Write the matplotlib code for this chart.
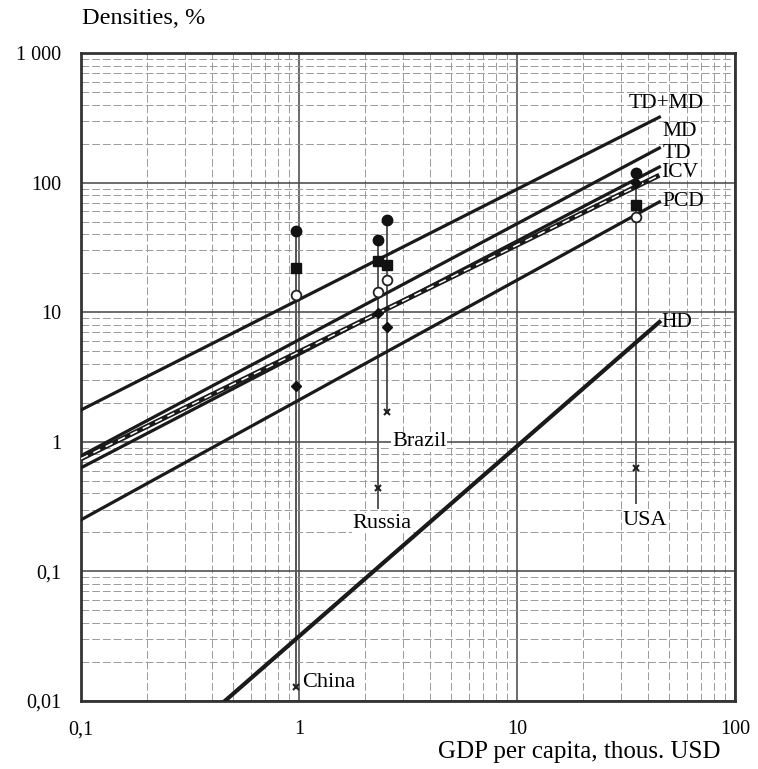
import numpy as np
import matplotlib.pyplot as plt
from matplotlib.ticker import FixedLocator, LogLocator, NullFormatter

plt.rcParams['font.family'] = ['Liberation Serif', 'DejaVu Serif']

# Density trend lines: end points on log-log axes
line_names = ['TD+MD', 'MD', 'TD', 'ICV', 'PCD', 'HD']
line_x0 = [0.1, 0.1, 0.1, 0.1, 0.1, 0.457]
line_y0 = [1.76, 0.78, 0.63, 0.74, 0.25, 0.01]
line_x1 = [45, 45, 45, 45, 45, 45]
line_y1 = [320, 185, 132, 114, 71, 8.4]

# Label anchor for each line (left edge of text)
label_x = [32.5, 46.6, 46.6, 46.0, 46.6, 46.0]
label_y = [411, 246, 169, 120, 71, 8.3]

# Country observations
countries = ['China', 'Russia', 'Brazil', 'USA']
gdp = [0.97, 2.3, 2.53, 35]
circle_vals = [42, 36, 51, 118]
square_vals = [22, 25, 23, 67]
open_vals = [13.6, 14.4, 17.7, 54]
diamond_vals = [2.7, 9.8, 7.7, 100]
cross_vals = [0.0128, 0.44, 1.7, 0.63]
stem_bottom = [0.0125, 0.31, 1.7, 0.34]
country_lx = [1.03, 2.40, 2.67, 38.6]
country_ly = [0.014, 0.236, 1.0, 0.249]
country_ha = ['left', 'center', 'left', 'center']

y_ticks = [0.01, 0.1, 1, 10, 100, 1000]
y_ticklabels = ['0,01', '0,1', '1', '10', '100', '1 000']
x_ticks = [0.1, 1, 10, 100]
x_ticklabels = ['0,1', '1', '10', '100']

fig = plt.figure(figsize=(7.58, 7.69), dpi=100)
ax = fig.add_axes([81 / 758, 68 / 769, 654 / 758, 648 / 769])
ax.set_xscale('log')
ax.set_yscale('log')
ax.set_xlim(0.1, 100)
ax.set_ylim(0.01, 1000)

# grid: solid decades, dashed sub-decades
ax.xaxis.set_major_locator(FixedLocator(x_ticks))
ax.yaxis.set_major_locator(FixedLocator(y_ticks))
ax.xaxis.set_minor_locator(LogLocator(base=10, subs=np.arange(2, 10)))
ax.yaxis.set_minor_locator(LogLocator(base=10, subs=np.arange(2, 10)))
ax.xaxis.set_minor_formatter(NullFormatter())
ax.yaxis.set_minor_formatter(NullFormatter())
ax.grid(which='major', color='#444444', lw=1.1, ls='-')
ax.grid(which='minor', color='#9a9a9a', lw=0.7, ls=(0, (8, 3)))
ax.set_axisbelow(True)

ax.set_xticklabels(x_ticklabels)
ax.set_yticklabels(y_ticklabels)
ax.tick_params(which='both', length=0, labelsize=14.5)
ax.tick_params(axis='y', pad=14)
ax.tick_params(axis='x', pad=14)
for s in ax.spines.values():
    s.set_linewidth(2.0)
    s.set_color('#333333')

# country stems and markers
for i in range(len(countries)):
    ax.plot([gdp[i], gdp[i]], [stem_bottom[i], circle_vals[i]], color='#555555', lw=1.4, zorder=3)
    ax.plot(gdp[i], circle_vals[i], 'o', color='#111111', ms=7.5, zorder=5)
    ax.plot(gdp[i], square_vals[i], 's', color='#111111', ms=6.5, zorder=5)
    ax.plot(gdp[i], open_vals[i], 'o', mfc='white', mec='#222222', mew=1.3, ms=7, zorder=5)
    ax.plot(gdp[i], diamond_vals[i], 'D', color='#111111', ms=5, zorder=5)
    ax.plot(gdp[i], cross_vals[i], 'x', color='#222222', ms=5, mew=1.5, zorder=5)
    ax.text(country_lx[i], country_ly[i], countries[i], fontsize=16,
            ha=country_ha[i], va='center', zorder=6,
            bbox=dict(facecolor='white', edgecolor='none', pad=0.5))

# trend lines
for i, name in enumerate(line_names):
    xs = [line_x0[i], line_x1[i]]
    ys = [line_y0[i], line_y1[i]]
    if name == 'ICV':
        ax.plot(xs, ys, color='#1a1a1a', lw=3.6, solid_capstyle='butt', zorder=4)
        ax.plot(xs, ys, color='white', lw=1.1, ls=(0, (5, 4)), zorder=4)
    elif name == 'HD':
        ax.plot(xs, ys, color='#1a1a1a', lw=3.0, zorder=4)
    else:
        ax.plot(xs, ys, color='#1a1a1a', lw=2.3, zorder=4)
    ax.text(label_x[i], label_y[i], name, fontsize=15.5, ha='left', va='center', zorder=6)

fig.text(82 / 758, 1 - 18 / 769, 'Densities, %', fontsize=17.5, ha='left', va='center')
fig.text(720 / 758, 1 - 752 / 769, 'GDP per capita, thous. USD', fontsize=18,
         ha='right', va='center')

fig.savefig('out.png', dpi=100)
